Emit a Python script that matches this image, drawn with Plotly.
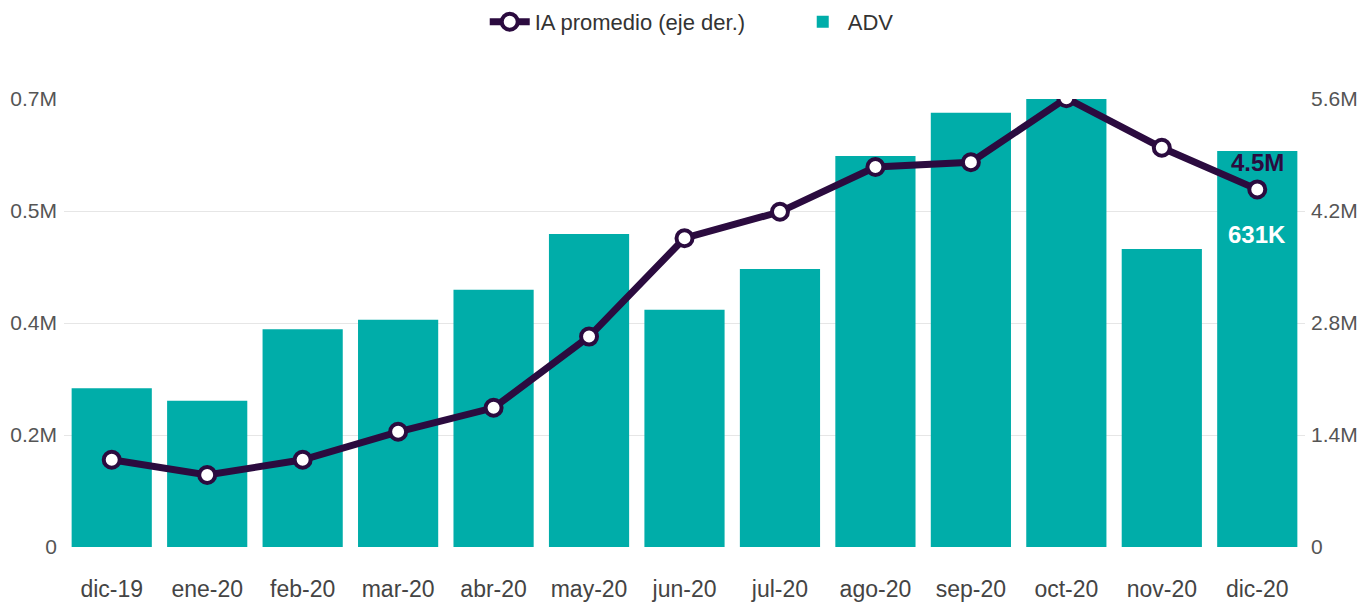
import plotly.graph_objects as go

months = ["dic-19", "ene-20", "feb-20", "mar-20", "abr-20", "may-20", "jun-20",
          "jul-20", "ago-20", "sep-20", "oct-20", "nov-20", "dic-20"]
adv = [253000, 233000, 347000, 362000, 410000, 499000, 378000,
       443000, 623000, 692000, 714000, 475000, 631000]
ia_promedio = [1090000, 900000, 1090000, 1440000, 1740000, 2630000, 3860000,
               4190000, 4750000, 4810000, 5610000, 4990000, 4470000]

left_ticks = [0, 178500, 357000, 535500, 714000]
left_labels = ["0", "0.2M", "0.4M", "0.5M", "0.7M"]
right_ticks = [0, 1400000, 2800000, 4200000, 5600000]
right_labels = ["0", "1.4M", "2.8M", "4.2M", "5.6M"]

TEAL = "#00ADA9"
PURPLE = "#2B0B3F"
FONT = "Liberation Sans, Arial, sans-serif"

fig = go.Figure()
fig.add_trace(go.Bar(x=months, y=adv, name="ADV", marker_color=TEAL,
                     marker_line_width=0, yaxis="y"))
fig.add_trace(go.Scatter(x=months, y=ia_promedio, name="IA promedio (eje der.)",
                         mode="lines+markers", yaxis="y2",
                         line=dict(color=PURPLE, width=7),
                         marker=dict(size=16, color="white",
                                     line=dict(color=PURPLE, width=4))))

fig.add_annotation(x=months[-1], y=ia_promedio[-1], xref="x", yref="y2",
                   text="<b>4.5M</b>", showarrow=False, yshift=27,
                   font=dict(size=24, color=PURPLE, family=FONT))
fig.add_annotation(x=months[-1], y=adv[-1], xref="x", yref="y",
                   text="<b>631K</b>", showarrow=False, yshift=-83,
                   font=dict(size=24, color="white", family=FONT))

fig.update_layout(
    width=1362, height=602,
    margin=dict(l=64, r=57, t=99, b=55, autoexpand=False),
    paper_bgcolor="white", plot_bgcolor="white",
    font=dict(family=FONT, size=21, color="#555555"),
    bargap=0.16,
    showlegend=True,
    legend=dict(orientation="h", xref="container", yref="container",
                x=0.3559, xanchor="left", y=0.9635, yanchor="middle",
                font=dict(size=22, color="#333333"), traceorder="reversed",
                itemwidth=40, entrywidth=258, bgcolor="rgba(0,0,0,0)"),
    xaxis=dict(range=[-0.5, 12.5], showgrid=False, showline=False, ticks="",
               ticklabelstandoff=26, automargin=False,
               tickfont=dict(size=23, color="#444444")),
    yaxis=dict(range=[0, 714000], tickvals=left_ticks, ticktext=left_labels,
               showgrid=True, gridcolor="#E6E6E6", gridwidth=1, zeroline=False,
               automargin=False, ticklabelstandoff=6,
               tickfont=dict(size=21, color="#555555")),
    yaxis2=dict(range=[0, 5600000], tickvals=right_ticks, ticktext=right_labels,
                overlaying="y", side="right", showgrid=False, zeroline=False,
                automargin=False, ticklabelstandoff=5,
                tickfont=dict(size=21, color="#555555")),
)

fig.write_html("out.html", config={"displayModeBar": False},
               post_script="document.body.style.margin='0';document.body.style.overflow='hidden';")
